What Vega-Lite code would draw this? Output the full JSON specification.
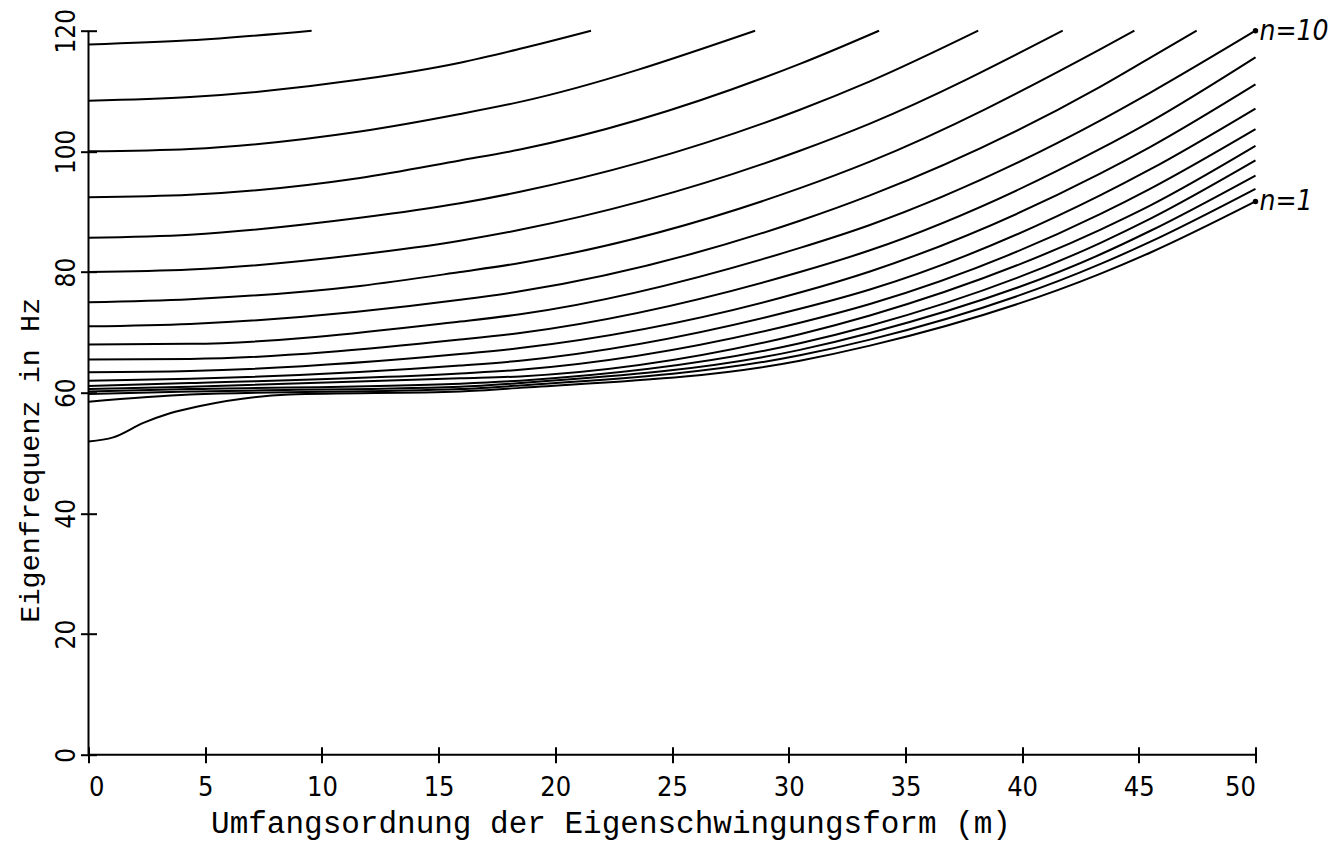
{
  "$schema": "https://vega.github.io/schema/vega-lite/v6.json",
  "width": 1167,
  "height": 724,
  "autosize": {"type": "none"},
  "padding": {"left": 88.5, "top": 30.7, "right": 87.5, "bottom": 88.3},
  "background": "white",
  "config": {"view": {"stroke": null}, "axis": {"grid": false}},
  "datasets": {
    "curves": [
      {"n": 18, "m": 0, "f": 117.7}, {"n": 18, "m": 4.35, "f": 118.4}, {"n": 18, "m": 9.56, "f": 120},
      {"n": 17, "m": 0, "f": 108.4}, {"n": 17, "m": 4.35, "f": 109.0}, {"n": 17, "m": 11.63, "f": 111.9}, {"n": 17, "m": 15.92, "f": 114.7}, {"n": 17, "m": 18.49, "f": 117.0}, {"n": 17, "m": 21.53, "f": 120},
      {"n": 16, "m": 0, "f": 100.0}, {"n": 16, "m": 4.35, "f": 100.4}, {"n": 16, "m": 11.63, "f": 103.3}, {"n": 16, "m": 15.92, "f": 106.2}, {"n": 16, "m": 18.49, "f": 108.2}, {"n": 16, "m": 28.56, "f": 120},
      {"n": 15, "m": 0, "f": 92.4}, {"n": 15, "m": 4.35, "f": 92.8}, {"n": 15, "m": 11.63, "f": 95.6}, {"n": 15, "m": 15.92, "f": 98.5}, {"n": 15, "m": 18.49, "f": 100.3}, {"n": 15, "m": 30.48, "f": 114.5}, {"n": 15, "m": 33.87, "f": 120},
      {"n": 14, "m": 0, "f": 85.7}, {"n": 14, "m": 4.35, "f": 86.2}, {"n": 14, "m": 11.63, "f": 89.0}, {"n": 14, "m": 15.92, "f": 91.4}, {"n": 14, "m": 18.49, "f": 93.3}, {"n": 14, "m": 30.48, "f": 106.9}, {"n": 14, "m": 33.48, "f": 111.6}, {"n": 14, "m": 38.12, "f": 120},
      {"n": 13, "m": 0, "f": 80.0}, {"n": 13, "m": 4.35, "f": 80.4}, {"n": 13, "m": 11.63, "f": 82.9}, {"n": 13, "m": 15.92, "f": 85.2}, {"n": 13, "m": 18.49, "f": 87.0}, {"n": 13, "m": 30.48, "f": 100.1}, {"n": 13, "m": 33.48, "f": 104.6}, {"n": 13, "m": 41.74, "f": 120},
      {"n": 12, "m": 0, "f": 75.0}, {"n": 12, "m": 4.35, "f": 75.5}, {"n": 12, "m": 11.63, "f": 77.7}, {"n": 12, "m": 15.92, "f": 80.0}, {"n": 12, "m": 18.49, "f": 81.5}, {"n": 12, "m": 30.48, "f": 93.9}, {"n": 12, "m": 33.48, "f": 98.3}, {"n": 12, "m": 43.34, "f": 116.9}, {"n": 12, "m": 44.81, "f": 120},
      {"n": 11, "m": 0, "f": 71.0}, {"n": 11, "m": 4.35, "f": 71.4}, {"n": 11, "m": 15.92, "f": 75.4}, {"n": 11, "m": 18.49, "f": 76.8}, {"n": 11, "m": 30.48, "f": 88.5}, {"n": 11, "m": 33.48, "f": 92.7}, {"n": 11, "m": 43.34, "f": 110.7}, {"n": 11, "m": 45.48, "f": 115.5}, {"n": 11, "m": 47.48, "f": 120},
      {"n": 10, "m": 0, "f": 68.0}, {"n": 10, "m": 4.35, "f": 68.1}, {"n": 10, "m": 15.92, "f": 71.8}, {"n": 10, "m": 18.49, "f": 73.0}, {"n": 10, "m": 30.48, "f": 84.0}, {"n": 10, "m": 33.48, "f": 87.8}, {"n": 10, "m": 43.34, "f": 105.1}, {"n": 10, "m": 45.48, "f": 109.7}, {"n": 10, "m": 50, "f": 120},
      {"n": 9, "m": 0, "f": 65.5}, {"n": 9, "m": 4.35, "f": 65.6}, {"n": 9, "m": 15.92, "f": 68.8}, {"n": 9, "m": 18.49, "f": 69.9}, {"n": 9, "m": 30.48, "f": 80.0}, {"n": 9, "m": 33.48, "f": 83.6}, {"n": 9, "m": 43.34, "f": 100.4}, {"n": 9, "m": 45.48, "f": 104.9}, {"n": 9, "m": 50, "f": 115.6},
      {"n": 8, "m": 0, "f": 63.4}, {"n": 8, "m": 4.35, "f": 63.6}, {"n": 8, "m": 15.92, "f": 66.4}, {"n": 8, "m": 18.49, "f": 67.4}, {"n": 8, "m": 30.48, "f": 76.6}, {"n": 8, "m": 33.48, "f": 80.1}, {"n": 8, "m": 43.34, "f": 96.3}, {"n": 8, "m": 45.48, "f": 100.7}, {"n": 8, "m": 50, "f": 111.1},
      {"n": 7, "m": 0, "f": 62.0}, {"n": 7, "m": 4.35, "f": 62.3}, {"n": 7, "m": 15.92, "f": 64.5}, {"n": 7, "m": 18.49, "f": 65.3}, {"n": 7, "m": 30.48, "f": 73.9}, {"n": 7, "m": 33.48, "f": 77.1}, {"n": 7, "m": 43.34, "f": 92.7}, {"n": 7, "m": 45.48, "f": 97.0}, {"n": 7, "m": 50, "f": 107.1},
      {"n": 6, "m": 0, "f": 61.1}, {"n": 6, "m": 4.35, "f": 61.6}, {"n": 6, "m": 15.92, "f": 63.2}, {"n": 6, "m": 18.49, "f": 63.8}, {"n": 6, "m": 30.48, "f": 71.6}, {"n": 6, "m": 33.48, "f": 74.7}, {"n": 6, "m": 43.34, "f": 89.6}, {"n": 6, "m": 45.48, "f": 93.8}, {"n": 6, "m": 50, "f": 103.7},
      {"n": 5, "m": 0, "f": 60.6}, {"n": 5, "m": 4.35, "f": 61.0}, {"n": 5, "m": 15.92, "f": 62.4}, {"n": 5, "m": 18.49, "f": 62.7}, {"n": 5, "m": 30.48, "f": 69.7}, {"n": 5, "m": 33.48, "f": 72.8}, {"n": 5, "m": 43.34, "f": 87.0}, {"n": 5, "m": 45.48, "f": 91.0}, {"n": 5, "m": 50, "f": 100.9},
      {"n": 4, "m": 0, "f": 60.2}, {"n": 4, "m": 4.35, "f": 60.6}, {"n": 4, "m": 15.92, "f": 61.5}, {"n": 4, "m": 18.49, "f": 62.0}, {"n": 4, "m": 30.48, "f": 68.2}, {"n": 4, "m": 33.48, "f": 71.1}, {"n": 4, "m": 43.34, "f": 84.8}, {"n": 4, "m": 45.48, "f": 88.8}, {"n": 4, "m": 50, "f": 98.5},
      {"n": 3, "m": 0, "f": 59.8}, {"n": 3, "m": 4.35, "f": 60.2}, {"n": 3, "m": 15.92, "f": 61.0}, {"n": 3, "m": 18.49, "f": 61.6}, {"n": 3, "m": 30.48, "f": 67.1}, {"n": 3, "m": 33.48, "f": 69.9}, {"n": 3, "m": 43.34, "f": 82.9}, {"n": 3, "m": 45.48, "f": 86.8}, {"n": 3, "m": 50, "f": 96.0},
      {"n": 2, "m": 0, "f": 58.5}, {"n": 2, "m": 4.35, "f": 59.7}, {"n": 2, "m": 15.92, "f": 60.6}, {"n": 2, "m": 18.49, "f": 61.2}, {"n": 2, "m": 30.48, "f": 66.2}, {"n": 2, "m": 33.48, "f": 68.8}, {"n": 2, "m": 43.34, "f": 81.3}, {"n": 2, "m": 45.48, "f": 85.0}, {"n": 2, "m": 50, "f": 93.8},
      {"n": 1, "m": 0, "f": 51.9}, {"n": 1, "m": 1.06, "f": 52.6}, {"n": 1, "m": 2.35, "f": 55.0}, {"n": 1, "m": 3.49, "f": 56.6}, {"n": 1, "m": 4.78, "f": 57.8}, {"n": 1, "m": 8.6, "f": 59.7}, {"n": 1, "m": 15.92, "f": 60.2}, {"n": 1, "m": 18.49, "f": 60.8}, {"n": 1, "m": 30.48, "f": 65.3}, {"n": 1, "m": 33.48, "f": 67.8}, {"n": 1, "m": 43.34, "f": 79.7}, {"n": 1, "m": 45.48, "f": 83.2}, {"n": 1, "m": 50, "f": 91.7}
    ],
    "labels": [
      {"m": 50, "f": 120, "label": "n=10"},
      {"m": 50, "f": 91.7, "label": "n=1"}
    ]
  },
  "layer": [
    {
      "data": {"name": "curves"},
      "mark": {"type": "line", "interpolate": "monotone", "stroke": "black", "strokeWidth": 2},
      "encoding": {
        "x": {
          "field": "m", "type": "quantitative",
          "scale": {"domain": [0, 50], "nice": false},
          "axis": {
            "values": [0, 5, 10, 15, 20, 25, 30, 35, 40, 45, 50],
            "domain": false, "offset": -8, "tickSize": 16, "tickWidth": 2, "tickColor": "black",
            "labelFont": "'DejaVu Sans Condensed', 'Liberation Sans', sans-serif", "labelFontSize": 27, "labelColor": "black",
            "labelPadding": 33, "labelBaseline": "alphabetic",
            "title": "Umfangsordnung der Eigenschwingungsform (m)",
            "titleFont": "Liberation Mono", "titleFontSize": 31, "titleFontWeight": "normal", "titleColor": "black",
            "titleX": 522, "titleY": 77, "titleAlign": "center", "titleBaseline": "middle"
          }
        },
        "y": {
          "field": "f", "type": "quantitative",
          "scale": {"domain": [0, 120], "nice": false},
          "axis": {
            "values": [0, 20, 40, 60, 80, 100, 120],
            "domain": false, "offset": -8, "tickSize": 16, "tickWidth": 2, "tickColor": "black",
            "labelFont": "'DejaVu Sans Condensed', 'Liberation Sans', sans-serif", "labelFontSize": 26, "labelColor": "black",
            "labelAngle": -90, "labelAlign": "center", "labelBaseline": "alphabetic", "labelPadding": 6,
            "title": "Eigenfrequenz in Hz",
            "titleFont": "Liberation Mono", "titleFontSize": 28.5, "titleFontWeight": "normal", "titleColor": "black",
            "titleAngle": -90, "titleX": -67, "titleY": 429, "titleAlign": "center", "titleBaseline": "middle"
          }
        },
        "detail": {"field": "n", "type": "nominal"}
      }
    },
    {
      "data": {"values": [{"v": 0}]},
      "mark": {"type": "rule", "stroke": "black", "strokeWidth": 2},
      "encoding": {"y": {"datum": 0, "type": "quantitative"}}
    },
    {
      "data": {"values": [{"v": 0}]},
      "mark": {"type": "rule", "stroke": "black", "strokeWidth": 2},
      "encoding": {"x": {"datum": 0, "type": "quantitative"}}
    },
    {
      "data": {"name": "labels"},
      "mark": {"type": "point", "filled": true, "color": "black", "size": 30, "opacity": 1},
      "encoding": {
        "x": {"field": "m", "type": "quantitative"},
        "y": {"field": "f", "type": "quantitative"}
      }
    },
    {
      "data": {"name": "labels"},
      "mark": {"type": "text", "align": "left", "baseline": "middle", "dx": 4, "dy": 1, "font": "'DejaVu Sans Condensed', 'Liberation Sans', sans-serif", "fontStyle": "italic", "fontSize": 28, "color": "black"},
      "encoding": {
        "x": {"field": "m", "type": "quantitative"},
        "y": {"field": "f", "type": "quantitative"},
        "text": {"field": "label"}
      }
    }
  ]
}
